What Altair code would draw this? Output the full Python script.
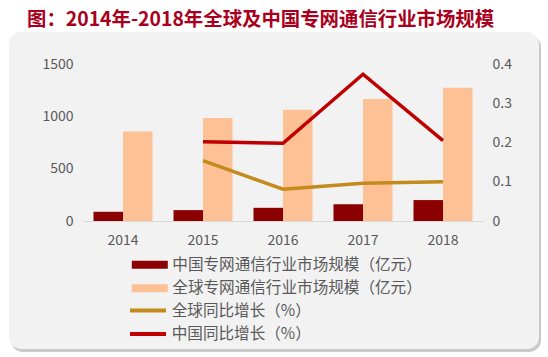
import altair as alt
import pandas as pd

years = ["2014", "2015", "2016", "2017", "2018"]
china_size = [88, 104, 126, 160, 200]
global_size = [855, 983, 1062, 1165, 1273]
growth_years = ["2015", "2016", "2017", "2018"]
global_growth = [0.154, 0.081, 0.096, 0.100]
china_growth = [0.202, 0.198, 0.374, 0.205]

s_china = "中国专网通信行业市场规模（亿元）"
s_global = "全球专网通信行业市场规模（亿元）"
g_global = "全球同比增长（%）"
g_china = "中国同比增长（%）"
title_text = "图：2014年-2018年全球及中国专网通信行业市场规模"

bars_df = pd.DataFrame({
    "year": years * 2,
    "series": [s_china] * len(years) + [s_global] * len(years),
    "value": china_size + global_size,
})
lines_df = pd.DataFrame({
    "year": growth_years * 2,
    "series": [g_global] * len(growth_years) + [g_china] * len(growth_years),
    "value": global_growth + china_growth,
})

FONT = "Noto Sans CJK SC"
GRAY = "#595959"
W, H = 400, 157
L, T = 83, 64

panel_df = pd.DataFrame({"k": [0]})
shadow = alt.Chart(panel_df).mark_rect(color="#c9c9c9", cornerRadius=12).encode(
    x=alt.value(11 - L), x2=alt.value(541 - L), y=alt.value(35 - T), y2=alt.value(352 - T)
)
panel = alt.Chart(panel_df).mark_rect(color="#f2f2f2", cornerRadius=12).encode(
    x=alt.value(9 - L), x2=alt.value(539 - L), y=alt.value(32 - T), y2=alt.value(349 - T)
)

xenc = alt.X(
    "year:N", sort=years,
    scale=alt.Scale(paddingInner=0.2625, paddingOuter=0.13125),
    axis=alt.Axis(title=None, labelAngle=0, labelFont=FONT, labelFontSize=14,
                  labelColor=GRAY, ticks=False, tickSize=0, labelPadding=12,
                  domainColor="#d9d9d9", domainWidth=1, grid=False, zindex=1),
)

bar = alt.Chart(bars_df).mark_bar().encode(
    x=xenc,
    xOffset=alt.XOffset("series:N", sort=[s_china, s_global],
                        scale=alt.Scale(paddingInner=0, paddingOuter=0)),
    y=alt.Y("value:Q", scale=alt.Scale(domain=[0, 1500]),
            axis=alt.Axis(title=None, values=[0, 500, 1000, 1500], format="d",
                          labelFont=FONT, labelFontSize=14, labelColor=GRAY,
                          domain=False, ticks=False, tickSize=0, grid=False,
                          labelPadding=10, zindex=1)),
    color=alt.Color("series:N",
                    scale=alt.Scale(domain=[s_china, s_global], range=["#8b0000", "#fdc195"]),
                    legend=alt.Legend(title=None, orient="none", legendX=59, legendY=193,
                                      direction="vertical",
                                      symbolType="M-3,-0.67H3V0.67H-3Z", symbolSize=144,
                                      symbolStrokeWidth=0, labelFont=FONT, labelFontSize=15.6,
                                      labelColor=GRAY, labelOffset=14.7, rowPadding=6.5,
                                      labelLimit=400, padding=0)),
)

line = alt.Chart(lines_df).mark_line(strokeWidth=3.5).encode(
    x=alt.X("year:N", sort=years),
    y=alt.Y("value:Q", scale=alt.Scale(domain=[0, 0.4]),
            axis=alt.Axis(title=None, orient="right", values=[0, 0.1, 0.2, 0.3, 0.4],
                          labelExpr="datum.value == 0 ? '0' : format(datum.value, '.1f')",
                          labelFont=FONT, labelFontSize=14, labelColor=GRAY,
                          domain=False, ticks=False, tickSize=0, grid=False,
                          labelPadding=9, zindex=1)),
    stroke=alt.Stroke("series:N",
                      scale=alt.Scale(domain=[g_global, g_china], range=["#c48a1c", "#c00000"]),
                      legend=alt.Legend(title=None, orient="none", legendX=57, legendY=238.5,
                                        direction="vertical",
                                        symbolType="M-3,0H3", symbolSize=144,
                                        symbolStrokeWidth=4, labelFont=FONT, labelFontSize=15.6,
                                        labelColor=GRAY, labelOffset=15.7, rowPadding=6.5,
                                        labelLimit=400, padding=0)),
)

chart = alt.layer(shadow, panel, bar, line).resolve_scale(
    y="independent", color="independent", stroke="independent"
).properties(
    width=W, height=H,
    autosize=alt.AutoSizeParams(type="none"),
    padding={"left": L, "top": T, "right": 548 - L - W, "bottom": 357 - T - H},
    title=alt.TitleParams(text=title_text, anchor="start", frame="group", dx=27 - L,
                          offset=-17, baseline="bottom", font=FONT, fontSize=19.4,
                          fontWeight="bold", color="#a8001c"),
).configure_view(stroke=None).configure(background="white")

chart.save("out.html", embed_options={"renderer": "svg", "actions": False})
